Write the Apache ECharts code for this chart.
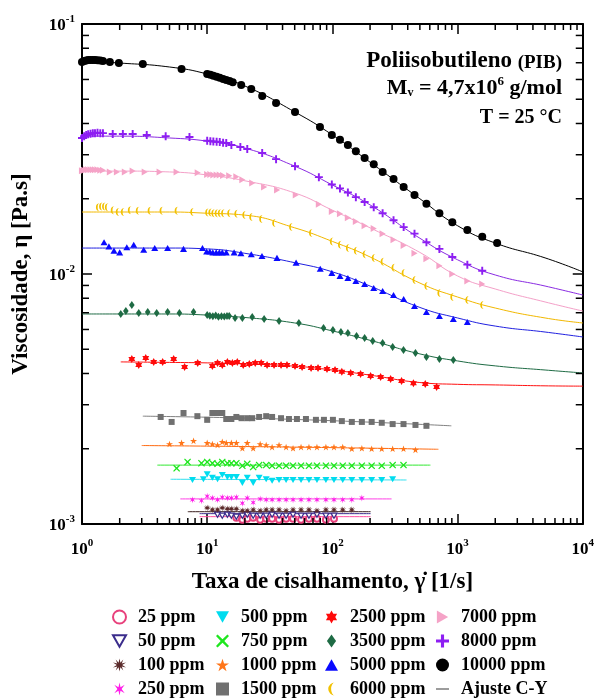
<!DOCTYPE html>
<html>
<head>
<meta charset="utf-8">
<script src="https://cdn.jsdelivr.net/npm/echarts@6/dist/echarts.min.js"></script>
<style>
  html, body { margin: 0; padding: 0; background: #fff; }
  #main { width: 597px; height: 700px; }
</style>
</head>
<body>
<div id="main"></div>
<script>
// shear rate [1/s], viscosity [Pa.s]
var s25 = [[17.1,0.00106],[19.1,0.00104],[20.9,0.00105],[23.3,0.00106],[26.5,0.00104],[29.6,0.00105],[33.0,0.00105],[37.5,0.00104],[42.7,0.00105],[48.5,0.00105],[56.2,0.00104],[65,0.00105],[75.3,0.00105],[88.8,0.00104],[103,0.00105]];
var s50 = [[12.1,0.00109],[13.2,0.00108],[14.5,0.00109],[15.6,0.00108],[17.1,0.00107],[19.1,0.00108],[20.9,0.00109],[23.3,0.00108],[26.5,0.00108],[29.6,0.00108],[33.0,0.00109],[37.5,0.00108],[42.7,0.00108],[48.5,0.00109],[56.2,0.00108],[65,0.00108],[75.3,0.00109],[88.8,0.00108],[103,0.00108]];
var s100 = [[10.0,0.00116],[11.0,0.00114],[12.1,0.00114],[13.2,0.00116],[14.5,0.00115],[15.6,0.00115],[17.1,0.00115],[19.1,0.00113],[20.9,0.00113],[23.3,0.00114],[26.5,0.00113],[29.6,0.00114],[33.0,0.00114],[37.5,0.00114],[42.7,0.00113],[48.5,0.00114],[56.2,0.00114],[65,0.00114],[75.3,0.00113],[88.8,0.00114],[103,0.00114],[121,0.00114],[143,0.00114]];
var s250 = [[7.63,0.00125],[9.0,0.00124],[10.0,0.00129],[11.0,0.00127],[12.1,0.00125],[13.2,0.00128],[14.5,0.00127],[15.6,0.00127],[17.1,0.00128],[19.1,0.00121],[20.9,0.00127],[23.3,0.00122],[26.5,0.00126],[29.6,0.00125],[33.0,0.00125],[37.5,0.00125],[42.7,0.00125],[48.5,0.00125],[56.2,0.00125],[65,0.00125],[75.3,0.00125],[88.8,0.00125],[103,0.00125],[121,0.00125],[143,0.00125],[172,0.00127]];
var s500 = [[7.63,0.00150],[9.33,0.00151],[10.0,0.00158],[11.0,0.00153],[12.1,0.00151],[13.2,0.00157],[14.5,0.00154],[15.6,0.00154],[17.1,0.00154],[19.1,0.00146],[20.9,0.00153],[23.3,0.00146],[26.0,0.00153],[29.6,0.00151],[33.0,0.00149],[37.5,0.00150],[42.7,0.00150],[48.5,0.00150],[56.2,0.00150],[65,0.00150],[75.3,0.00150],[88.8,0.00150],[103,0.00150],[121,0.00150],[143,0.00150],[172,0.00150],[206,0.00150],[248,0.00150],[303,0.00151]];
var s750 = [[5.7,0.00167],[6.97,0.00177],[9.0,0.00175],[10.0,0.00177],[11.0,0.00175],[12.1,0.00174],[13.2,0.00177],[14.5,0.00175],[15.6,0.00175],[17.1,0.00175],[19.1,0.00171],[20.9,0.00174],[23.3,0.00169],[26.0,0.00172],[29.6,0.00172],[33.0,0.00171],[37.5,0.00171],[42.7,0.00171],[48.5,0.00171],[56.2,0.00171],[65,0.00171],[75.3,0.00171],[88.8,0.00171],[103,0.00171],[121,0.00171],[143,0.00171],[172,0.00171],[206,0.00171],[248,0.00171],[303,0.00172],[370,0.00172]];
var s1000 = [[5.0,0.00209],[6.24,0.00211],[7.78,0.00215],[10.0,0.00211],[11.0,0.00209],[12.1,0.00207],[13.2,0.00213],[14.2,0.00211],[15.6,0.00211],[17.1,0.00211],[19.1,0.00201],[20.9,0.00211],[23.3,0.00201],[26.5,0.00209],[29.6,0.00207],[33.0,0.00203],[37.5,0.00207],[42.7,0.00203],[48.5,0.00201],[56.2,0.00203],[65,0.00203],[75.3,0.00203],[88.8,0.00203],[103,0.00203],[121,0.00203],[143,0.00200],[172,0.00201],[206,0.00200],[248,0.00200],[303,0.00200],[370,0.00200],[461,0.00198]];
var s1500 = [[4.25,0.00268],[5.2,0.00256],[6.47,0.00278],[8.35,0.00270],[10.0,0.00261],[11.0,0.00278],[12.1,0.00278],[13.2,0.00278],[14.2,0.00263],[15.6,0.00263],[17.1,0.00268],[18.8,0.00265],[20.9,0.00265],[22.9,0.00265],[26.0,0.00268],[29.6,0.00270],[33.0,0.00268],[38.9,0.00265],[45.0,0.00263],[52.1,0.00263],[61.5,0.00263],[73.9,0.00261],[85.6,0.00261],[101,0.00261],[119,0.00258],[143,0.00256],[172,0.00256],[206,0.00256],[248,0.00254],[303,0.00251],[370,0.00251],[461,0.00249],[564,0.00247]];
var s2500 = [[2.50,0.00457],[2.84,0.00433],[3.23,0.00461],[3.74,0.00445],[4.41,0.00445],[5.4,0.00457],[6.6,0.00425],[8.4,0.00441],[11.0,0.00429],[12.1,0.00441],[13.2,0.00433],[14.5,0.00445],[15.9,0.00441],[17.4,0.00445],[19.4,0.00433],[21.7,0.00437],[24.2,0.00441],[27.0,0.00441],[30.1,0.00433],[34.2,0.00433],[38.9,0.00433],[43.4,0.00433],[50.3,0.00429],[57.3,0.00425],[67.6,0.00421],[76.8,0.00421],[90.6,0.00417],[105,0.00413],[119,0.00406],[140,0.00402],[168,0.00398],[202,0.00391],[243,0.00387],[292,0.00380],[357,0.00373],[444,0.00366],[552,0.00363],[680,0.00353]];
var s3500 = [[2.04,0.00692],[2.24,0.00711],[2.50,0.00752],[2.84,0.00698],[3.35,0.00705],[3.95,0.00698],[4.83,0.00705],[6.0,0.00698],[7.78,0.00705],[10.0,0.00685],[10.5,0.00680],[11.1,0.00678],[11.7,0.00682],[12.3,0.00675],[13.0,0.00678],[13.7,0.00676],[14.4,0.00679],[15.0,0.00679],[16.7,0.00667],[19.1,0.00667],[22.9,0.00673],[28.5,0.00661],[37.5,0.00649],[54,0.00637],[85,0.00608],[101,0.00597],[117,0.00586],[133,0.00581],[156,0.00565],[181,0.00555],[210,0.00540],[252,0.00530],[303,0.00511],[370,0.00497],[461,0.00483],[564,0.00466],[716,0.00457],[925,0.00453]];
var s5000 = [[1.50,0.0134],[1.64,0.0129],[1.80,0.0124],[2.0,0.0122],[2.28,0.0128],[2.59,0.0131],[3.11,0.0125],[3.81,0.0127],[4.83,0.0127],[6.47,0.0126],[9.17,0.0127],[9.9,0.0123],[10.5,0.0123],[11.1,0.0122],[11.8,0.0122],[12.5,0.0122],[13.2,0.0122],[14.2,0.0122],[16.4,0.0122],[18.6,0.0121],[22.5,0.0120],[27.4,0.0118],[36.1,0.0116],[51.3,0.0111],[80,0.0105],[99,0.0101],[115,0.00982],[133,0.00964],[154,0.00938],[181,0.00912],[214,0.00879],[252,0.00855],[308,0.00824],[371,0.00794],[453,0.00745],[564,0.00705],[716,0.00679],[925,0.00661],[1197,0.00643]];
var s6000 = [[1.34,0.0185],[1.42,0.0186],[1.50,0.0186],[1.58,0.0185],[1.76,0.0180],[1.93,0.0177],[2.12,0.0177],[2.41,0.0180],[2.79,0.0179],[3.47,0.0179],[4.32,0.0179],[5.7,0.0179],[7.6,0.0177],[10.0,0.0176],[10.6,0.0176],[11.2,0.0175],[11.9,0.0175],[12.6,0.0175],[13.4,0.0175],[15.0,0.0175],[17.1,0.0174],[19.8,0.0172],[22.5,0.0169],[27.0,0.0166],[34.3,0.0160],[46.8,0.0154],[67.5,0.0146],[99,0.0135],[115,0.0131],[133,0.0127],[154,0.0124],[181,0.0120],[214,0.0116],[252,0.0112],[308,0.0106],[371,0.0101],[453,0.00946],[564,0.00895],[716,0.00839],[908,0.00809],[1197,0.00787],[1574,0.00752]];
var s7000 = [[1.00,0.0259],[1.04,0.0260],[1.08,0.0261],[1.12,0.0261],[1.17,0.0261],[1.22,0.0261],[1.27,0.0261],[1.33,0.0261],[1.40,0.0260],[1.47,0.0260],[1.67,0.0256],[1.90,0.0256],[2.2,0.0256],[2.54,0.0258],[3.17,0.0256],[4.17,0.0256],[5.7,0.0256],[8.4,0.0254],[10.0,0.0250],[10.6,0.0250],[11.2,0.0249],[11.9,0.0249],[12.6,0.0249],[13.4,0.0248],[15.0,0.0247],[17.1,0.0245],[19.1,0.0238],[22.9,0.0231],[28.5,0.0223],[36.2,0.0217],[51,0.0207],[78,0.0190],[99,0.0178],[115,0.0174],[133,0.0168],[154,0.0162],[181,0.0156],[214,0.0152],[252,0.0145],[308,0.0137],[371,0.0130],[453,0.0121],[564,0.0115],[716,0.0108],[908,0.0100],[1197,0.00938],[1574,0.00912]];
var s8000 = [[1.00,0.0350],[1.04,0.0356],[1.08,0.0360],[1.12,0.0362],[1.17,0.0364],[1.22,0.0366],[1.27,0.0366],[1.33,0.0367],[1.40,0.0366],[1.47,0.0366],[1.76,0.0363],[2.12,0.0363],[2.54,0.0363],[3.29,0.0360],[4.66,0.0356],[7.22,0.0353],[10.0,0.0341],[10.6,0.0340],[11.2,0.0339],[11.9,0.0338],[12.6,0.0337],[13.4,0.0335],[14.2,0.0334],[15.6,0.0328],[18.4,0.0322],[20.9,0.0316],[27.5,0.0305],[35.5,0.0288],[50.3,0.0270],[78,0.0244],[99,0.0228],[115,0.0220],[133,0.0212],[154,0.0203],[181,0.0194],[214,0.0185],[252,0.0175],[308,0.0164],[371,0.0154],[453,0.0145],[564,0.0134],[716,0.0126],[908,0.0117],[1197,0.0109],[1574,0.0103]];
var s10000 = [[1.00,0.0705],[1.04,0.0712],[1.08,0.0715],[1.12,0.0717],[1.17,0.0718],[1.22,0.0718],[1.27,0.0717],[1.33,0.0716],[1.40,0.0714],[1.47,0.0712],[1.67,0.0705],[1.97,0.0698],[3.06,0.0692],[6.24,0.0661],[10.0,0.0631],[10.6,0.0626],[11.2,0.0621],[11.9,0.0615],[12.6,0.0609],[13.4,0.0603],[14.2,0.0597],[15.1,0.0591],[16.0,0.0585],[18.7,0.0570],[22.5,0.0550],[27.5,0.0515],[35.5,0.0483],[50.3,0.0445],[79.6,0.0387],[99,0.0360],[115,0.0344],[133,0.0328],[154,0.0310],[181,0.0291],[214,0.0275],[252,0.0256],[308,0.0240],[371,0.0223],[453,0.0207],[564,0.0191],[716,0.0175],[908,0.0161],[1197,0.0150],[1574,0.0141],[2070,0.0133]];

// Carreau-Yasuda fit curves
var fitRates = [1, 2, 5, 10, 20, 50, 100, 200, 500, 1000, 2000, 5000, 10000];
var fit10000 = [0.0711, 0.0698, 0.0673, 0.0631, 0.0565, 0.0445, 0.0360, 0.0280, 0.0200, 0.0156, 0.0133, 0.0116, 0.0102];
var fit8000 = [0.0356, 0.0356, 0.0350, 0.0340, 0.0319, 0.0270, 0.0227, 0.0189, 0.0139, 0.0114, 0.00991, 0.00895, 0.00824];
var fit7000 = [0.0258, 0.0258, 0.0256, 0.0249, 0.0236, 0.0211, 0.0180, 0.0153, 0.0122, 0.00982, 0.00871, 0.00773, 0.00711];
var fit6000 = [0.0177, 0.0177, 0.0177, 0.0175, 0.0172, 0.0153, 0.0135, 0.0117, 0.00920, 0.00809, 0.00731, 0.00667, 0.00637];
var fit5000 = [0.0127, 0.0127, 0.0127, 0.0126, 0.0121, 0.0111, 0.0102, 0.00895, 0.00735, 0.00667, 0.00619, 0.00586, 0.00560];
var fit3500 = [0.00692, 0.00692, 0.00692, 0.00685, 0.00670, 0.00637, 0.00592, 0.00543, 0.00479, 0.00449, 0.00429, 0.00413, 0.00402];
var fit2500 = [[2.04,0.00445],[5,0.00443],[10,0.00441],[20,0.00437],[50,0.00428],[100,0.00413],[200,0.00394],[500,0.00368],[1000,0.00362],[2000,0.00360],[5000,0.00357],[10000,0.00356]];
var fit1500 = [[3.06,0.00270],[50,0.00262],[892,0.00247]];
var fit1000 = [[3.0,0.00206],[50,0.00203],[703,0.00199]];
var fit750 = [[4.0,0.00172],[607,0.00172]];
var fit500 = [[5.1,0.00151],[391,0.00150]];
var fit250 = [[6.1,0.00126],[297,0.00126]];
var fit100 = [[7.0,0.00112],[202,0.00112]];
var fit50 = [[8.7,0.00110],[202,0.00110]];
var fit25 = [[8.7,0.00107],[202,0.00107]];

var FONT = "'Liberation Serif','Times New Roman',serif";

var P_PLUS = 'path://M38,0H62V38H100V62H62V100H38V62H0V38H38Z';
var P_X = 'path://M12,0L50,36L88,0L100,12L64,50L100,88L88,100L50,64L12,100L0,88L36,50L0,12Z';
var P_STAR5 = 'path://M50,0L62,36H100L69,58L81,95L50,72L19,95L31,58L0,36H38Z';
var P_STAR6 = 'path://M50,0L64,25H93L79,50L93,75H64L50,100L36,75H7L21,50L7,25H36Z';
var P_AST = 'path://M50,0L58,36L90,18L66,50L90,82L58,64L50,100L42,64L10,82L34,50L10,18L42,36Z';
var P_BURST = 'path://M50,0L57,33L79,8L67,38L100,30L71,50L100,70L67,62L79,92L57,67L50,100L43,67L21,92L33,62L0,70L29,50L0,30L33,38L21,8L43,33Z';
var P_MOON = 'path://M60,0A50,50 0 0,0 60,100A28,50 0 0,1 60,0Z';
var P_DOWN = 'path://M0,0H100L50,87Z';
var P_RIGHT = 'path://M0,0L87,50L0,100Z';
var P_UP = 'path://M50,0L100,87H0Z';
var P_DIAMOND = 'path://M50,0L85,50L50,100L15,50Z';
var P_RULE = 'path://M0,47H100V53H0Z';

function pairs(xs, ys) {
  return xs.map(function (x, i) { return [x, ys[i]]; });
}

var marks = [
  { name: '25 ppm', data: s25, fit: fit25, symbol: 'emptyCircle', size: 6, color: '#e8417c', line: '#ff4fa0' },
  { name: '50 ppm', data: s50, fit: fit50, symbol: P_DOWN, hollow: true, size: 6, color: '#3b2d8c', line: '#3b2d8c' },
  { name: '100 ppm', data: s100, fit: fit100, symbol: P_BURST, size: 7, color: '#5b2b2b', line: '#3a1f1f' },
  { name: '250 ppm', data: s250, fit: fit250, symbol: P_AST, size: 7, color: '#ff1ee8', line: '#ff40e6' },
  { name: '500 ppm', data: s500, fit: fit500, symbol: P_DOWN, size: 7, color: '#00dcef', line: '#30e0f0' },
  { name: '750 ppm', data: s750, fit: fit750, symbol: P_X, size: 7, color: '#1ee61e', line: '#30e830' },
  { name: '1000 ppm', data: s1000, fit: fit1000, symbol: P_STAR5, size: 7, color: '#ff7518', line: '#ff6a10' },
  { name: '1500 ppm', data: s1500, fit: fit1500, symbol: 'rect', size: 6, color: '#707070', line: '#808080' },
  { name: '2500 ppm', data: s2500, fit: fit2500, symbol: P_STAR6, size: 8, color: '#ff0a0a', line: '#ff1010' },
  { name: '3500 ppm', data: s3500, fit: fit3500, symbol: P_DIAMOND, size: 8, color: '#1e6b44', line: '#1e6b44' },
  { name: '5000 ppm', data: s5000, fit: fit5000, symbol: P_UP, size: 7, color: '#0a0aff', line: '#2020e0' },
  { name: '6000 ppm', data: s6000, fit: fit6000, symbol: P_MOON, size: 8, color: '#f2c100', line: '#f2b800' },
  { name: '7000 ppm', data: s7000, fit: fit7000, symbol: P_RIGHT, size: 7, color: '#f5a3c7', line: '#f4a0c8' },
  { name: '8000 ppm', data: s8000, fit: fit8000, symbol: P_PLUS, size: 8, color: '#8d1ef2', line: '#8a2be2' },
  { name: '10000 ppm', data: s10000, fit: fit10000, symbol: 'circle', size: 8, color: '#000000', line: '#000000' }
];

var xMinor = [];
for (var k = 0; k < 4; k++) for (var m = 2; m <= 9; m++) xMinor.push(m * Math.pow(10, k));
var yMinor = [];
for (var k2 = -3; k2 < -1; k2++) for (var m2 = 2; m2 <= 9; m2++) yMinor.push(m2 * Math.pow(10, k2));

var series = [];
marks.forEach(function (s) {
  var fitData = Array.isArray(s.fit[0]) ? s.fit : pairs(fitRates, s.fit);
  series.push({
    name: s.name === '10000 ppm' ? 'Ajuste C-Y' : 'fit ' + s.name,
    type: 'line',
    data: fitData,
    symbol: 'none',
    showSymbol: false,
    smooth: 0.5,
    lineStyle: { color: s.line, width: 1 },
    itemStyle: { color: s.line },
    z: 2,
    silent: true
  });
});
marks.forEach(function (s) {
  series.push({
    name: s.name,
    type: 'scatter',
    data: s.data,
    symbol: s.symbol,
    symbolSize: s.size,
    symbolKeepAspect: true,
    itemStyle: s.hollow
      ? { color: '#fff', borderColor: s.color, borderWidth: 1.2, opacity: 1 }
      : { color: s.color, borderColor: s.color, borderWidth: s.symbol.indexOf('empty') === 0 ? 1.2 : 0, opacity: 1 },
    z: 3
  });
});

function tickLine(a, b) {
  return { type: 'line', shape: { x1: a[0], y1: a[1], x2: b[0], y2: b[1] }, style: { stroke: '#000', lineWidth: 1.5 } };
}
series.push({
  type: 'custom', name: 'xminor', silent: true, z: 5, xAxisIndex: 0, yAxisIndex: 0,
  data: xMinor.map(function (v) { return [v, 0.01]; }),
  renderItem: function (params, api) {
    var v = api.value(0);
    var b = api.coord([v, 0.001]), t = api.coord([v, 0.1]);
    return { type: 'group', children: [tickLine(b, [b[0], b[1] - 6]), tickLine(t, [t[0], t[1] + 6])] };
  }
});
series.push({
  type: 'custom', name: 'yminor', silent: true, z: 5, xAxisIndex: 0, yAxisIndex: 0,
  data: yMinor.map(function (v) { return [10, v]; }),
  renderItem: function (params, api) {
    var v = api.value(1);
    var l = api.coord([1, v]), r = api.coord([10000, v]);
    return { type: 'group', children: [tickLine(l, [l[0] + 7, l[1]]), tickLine(r, [r[0] - 7, r[1]])] };
  }
});

function powLabel(v) {
  var e = Math.round(Math.log(v) / Math.LN10);
  return '{b|10}{s|' + e + '}';
}
var labelRich = {
  b: { fontFamily: FONT, fontWeight: 'bold', fontSize: 17, color: '#000', lineHeight: 20, verticalAlign: 'bottom' },
  s: { fontFamily: FONT, fontWeight: 'bold', fontSize: 11, color: '#000', lineHeight: 20, verticalAlign: 'top' }
};

var axisCommon = {
  type: 'log', logBase: 10,
  axisLine: { show: true, onZero: false, lineStyle: { color: '#000', width: 2 } },
  axisTick: { show: true, inside: true, length: 10, lineStyle: { color: '#000', width: 1.5 } },
  splitLine: { show: false },
  minorTick: { show: false }
};

var legendCommon = {
  orient: 'vertical', bottom: 2, itemWidth: 13, itemHeight: 13, itemGap: 6, padding: 0,
  selectedMode: false,
  textStyle: { fontFamily: FONT, fontWeight: 'bold', fontSize: 18, color: '#000', padding: [0, 0, 0, 7] }
};
var legendCols = [
  { left: 112, names: ['25 ppm', '50 ppm', '100 ppm', '250 ppm'] },
  { left: 216, names: ['500 ppm', '750 ppm', '1000 ppm', '1500 ppm'] },
  { left: 325, names: ['2500 ppm', '3500 ppm', '5000 ppm', '6000 ppm'] },
  { left: 436, names: ['7000 ppm', '8000 ppm', '10000 ppm', 'Ajuste C-Y'] }
];

var myChart = echarts.init(document.getElementById('main'));
var option = {
  animation: false,
  backgroundColor: '#fff',
  grid: { left: 82, right: 12, top: 24, bottom: 176, containLabel: false },
  xAxis: [
    Object.assign({}, axisCommon, {
      position: 'bottom', min: 1, max: 10000, splitNumber: 4,
      axisLabel: { margin: 14, formatter: powLabel, rich: labelRich },
      name: 'Taxa de cisalhamento, \u03b3\u0307 [1/s]', nameLocation: 'middle', nameGap: 47,
      nameTextStyle: { fontFamily: FONT, fontWeight: 'bold', fontSize: 23, color: '#000' }
    }),
    Object.assign({}, axisCommon, {
      position: 'top', min: 1, max: 10000, splitNumber: 4, axisLabel: { show: false }
    })
  ],
  yAxis: [
    Object.assign({}, axisCommon, {
      position: 'left', min: 0.001, max: 0.1, splitNumber: 2,
      axisLabel: { margin: 7, formatter: powLabel, rich: labelRich },
      name: 'Viscosidade, \u03b7 [Pa.s]', nameLocation: 'middle', nameGap: 49,
      nameTextStyle: { fontFamily: FONT, fontWeight: 'bold', fontSize: 23, color: '#000' }
    }),
    Object.assign({}, axisCommon, {
      position: 'right', min: 0.001, max: 0.1, splitNumber: 2, axisLabel: { show: false }
    })
  ],
  legend: legendCols.map(function (c) {
    return Object.assign({}, legendCommon, {
      left: c.left,
      data: c.names.map(function (n) {
        return n === 'Ajuste C-Y' ? { name: n, icon: P_RULE } : n;
      })
    });
  }),
  graphic: [
    {
      type: 'text', x: 562, y: 60,
      style: {
        text: '{a|Poliisobutileno }{b|(PIB)}', align: 'right', verticalAlign: 'middle',
        rich: {
          a: { fontFamily: FONT, fontWeight: 'bold', fontSize: 23, fill: '#000', lineHeight: 25, verticalAlign: 'bottom' },
          b: { fontFamily: FONT, fontWeight: 'bold', fontSize: 19, fill: '#000', lineHeight: 25, verticalAlign: 'bottom' }
        }
      }
    },
    {
      type: 'text', x: 562, y: 87,
      style: {
        text: '{a|M}{sub|v}{a| = 4,7x10}{sup|6}{a| g/mol}', align: 'right', verticalAlign: 'middle',
        rich: {
          a: { fontFamily: FONT, fontWeight: 'bold', fontSize: 22, fill: '#000', lineHeight: 24, verticalAlign: 'bottom' },
          sub: { fontFamily: FONT, fontWeight: 'bold', fontSize: 12, fill: '#000', lineHeight: 12, verticalAlign: 'bottom' },
          sup: { fontFamily: FONT, fontWeight: 'bold', fontSize: 13, fill: '#000', lineHeight: 14, verticalAlign: 'top' }
        }
      }
    },
    {
      type: 'text', x: 562, y: 118,
      style: {
        text: 'T = 25 \u00b0C', align: 'right', verticalAlign: 'middle',
        fontFamily: FONT, fontWeight: 'bold', fontSize: 20, fill: '#000'
      }
    }
  ],
  series: series
};
myChart.setOption(option);
</script>
</body>
</html>
